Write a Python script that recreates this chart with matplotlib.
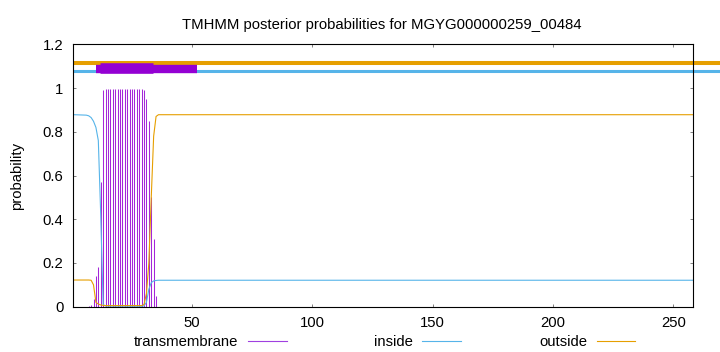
import matplotlib
matplotlib.use("Agg")
import matplotlib.pyplot as plt
import matplotlib.transforms as mtransforms
from matplotlib.lines import Line2D

plt.rcParams['font.family'] = ['Liberation Sans', 'DejaVu Sans']

title = "TMHMM posterior probabilities for MGYG000000259_00484"
x_range = (0.6, 258.3)

# transmembrane posterior, drawn as impulses
tm_pos = list(range(7, 36))
tm_prob = [0.005, 0.01, 0.035, 0.14, 0.18, 0.57,
           0.99, 0.995, 0.995, 0.995, 0.995, 0.995, 0.995, 0.995, 0.995,
           0.995, 0.995, 0.995, 0.995, 0.995, 0.995, 0.995, 0.995, 0.99,
           0.95, 0.85, 0.50, 0.31, 0.05]

# inside / outside posterior curves
curve_pos = [1, 6, 7, 8, 9, 10, 11, 12, 13, 14, 29, 30, 31, 32, 33, 34, 35, 36, 258]
inside_prob = [0.878, 0.876, 0.873, 0.865, 0.848, 0.82, 0.76, 0.42, 0.01, 0.003,
               0.002, 0.004, 0.02, 0.08, 0.11, 0.118, 0.12, 0.121, 0.121]
outside_prob = [0.122, 0.122, 0.122, 0.121, 0.10, 0.02, 0.012, 0.008, 0.006, 0.005,
                0.005, 0.01, 0.06, 0.2, 0.5, 0.78, 0.87, 0.878, 0.878]

# predicted topology bar along the top
tm_bar_wide = (10, 52)
tm_bar_core = (11.7, 33.6)

yticks = [0, 0.2, 0.4, 0.6, 0.8, 1.0, 1.2]
ytick_labels = ["0", "0.2", "0.4", "0.6", "0.8", "1", "1.2"]
xticks = [50, 100, 150, 200, 250]

c_tm = '#9400d3'
c_in = '#56b4e9'
c_out = '#e69f00'

W, H = 720, 352
fig = plt.figure(figsize=(W / 100, H / 100), dpi=100)
ax = fig.add_axes([73.3 / W, (H - 306.7) / H, 620 / W, 262.4 / H])

ax.vlines(tm_pos, 0, tm_prob, color=c_tm, lw=0.75, alpha=0.85)
ax.plot(curve_pos, inside_prob, color=c_in, lw=0.8)
ax.plot(curve_pos, outside_prob, color=c_out, lw=0.8)

# topology lines: inside and outside run past the right frame
trans = mtransforms.blended_transform_factory(ax.transAxes, ax.transData)
ax.plot([0, 1.043], [1.078, 1.078], color=c_in, lw=2.2, transform=trans,
        clip_on=False, solid_capstyle='butt')
ax.plot([0, 1.043], [1.116, 1.116], color=c_out, lw=2.9, transform=trans,
        clip_on=False, solid_capstyle='butt')
ax.plot(tm_bar_wide, [1.086, 1.086], color=c_tm, lw=6.0, solid_capstyle='butt')
ax.plot(tm_bar_core, [1.091, 1.091], color=c_tm, lw=7.6, solid_capstyle='butt')

ax.set_xlim(*x_range)
ax.set_ylim(0, 1.2)
ax.set_xticks(xticks)
ax.set_yticks(yticks)
ax.set_yticklabels(ytick_labels)
ax.tick_params(direction='in', length=2.5, width=0.7, color='#808080',
               top=True, right=True, labelsize=10.7, pad=7)
for s in ax.spines.values():
    s.set_linewidth(0.8)
    s.set_color('black')

fig.text(381.5 / W, (H - 29) / H, title, ha='center', va='baseline', fontsize=10.7)
fig.text(17 / W, (H - 176) / H, "probability", rotation=90, ha='center',
         va='center', fontsize=10.7)

# legend along the bottom
legend = [("transmembrane", '#a040e0', 238, 248, 287),
          ("inside", c_in, 413, 422, 461),
          ("outside", c_out, 587, 597, 635)]
for label, col, tx, x0, x1 in legend:
    fig.text(tx / W, (H - 345.5) / H, label, ha='right', va='baseline', fontsize=10.7)
    fig.add_artist(Line2D([x0 / W, x1 / W], [(H - 341) / H] * 2, color=col, lw=0.8,
                          transform=fig.transFigure))

fig.savefig("out.png", dpi=100)
